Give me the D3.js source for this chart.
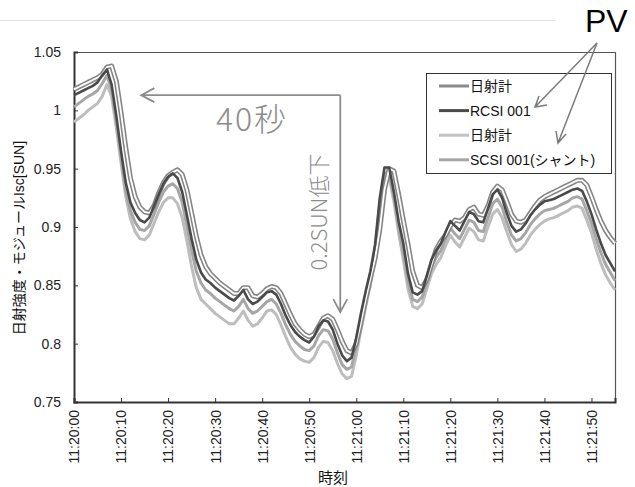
<!DOCTYPE html>
<html>
<head>
<meta charset="utf-8">
<script src="https://cdn.jsdelivr.net/npm/d3@7/dist/d3.min.js"></script>
<style>
body { margin:0; background:#fff; }
text { font-family: "Liberation Sans", "Noto Sans CJK JP", sans-serif; }
.thin { font-family: "Noto Sans CJK JP", sans-serif; font-weight: 300; }
</style>
</head>
<body>
<div id="svg"></div>
<script>

// seconds from 11:20:00, one sample per second
var secs = d3.range(0, 116);

var tickSecs = [0, 10, 20, 30, 40, 50, 60, 70, 80, 90, 100, 110];
var tickLabels = ["11:20:00", "11:20:10", "11:20:20", "11:20:30", "11:20:40", "11:20:50",
		  "11:21:00", "11:21:10", "11:21:20", "11:21:30", "11:21:40", "11:21:50"];
var yTicks = [0.75, 0.8, 0.85, 0.9, 0.95, 1, 1.05];

var seriesNames = ["日射計", "RCSI 001", "日射計", "SCSI 001(シャント)"];

// 日射計 (1)
var pyr1 = [
    1.018, 1.020, 1.022, 1.024, 1.026, 1.028, 1.031, 1.037, 1.038, 1.025,
    0.998, 0.968, 0.942, 0.926, 0.917, 0.913, 0.912, 0.918, 0.929, 0.938,
    0.944, 0.947, 0.949, 0.945, 0.932, 0.912, 0.892, 0.876, 0.866, 0.860,
    0.856, 0.852, 0.849, 0.846, 0.843, 0.843, 0.848, 0.848, 0.841, 0.840,
    0.843, 0.847, 0.849, 0.848, 0.843, 0.834, 0.825, 0.817, 0.812, 0.808,
    0.806, 0.808, 0.815, 0.822, 0.824, 0.821, 0.812, 0.802, 0.794, 0.792,
    0.800, 0.818, 0.838, 0.856, 0.873, 0.898, 0.932, 0.950, 0.948, 0.928,
    0.906, 0.885, 0.862, 0.850, 0.848, 0.855, 0.868, 0.881, 0.888, 0.893,
    0.901, 0.906, 0.905, 0.908, 0.915, 0.917, 0.911, 0.910, 0.918, 0.930,
    0.935, 0.932, 0.922, 0.911, 0.905, 0.904, 0.906, 0.912, 0.918, 0.923,
    0.926, 0.928, 0.930, 0.932, 0.934, 0.936, 0.938, 0.940, 0.940, 0.936,
    0.926, 0.915, 0.905, 0.897, 0.891, 0.886];

// RCSI 001
var rcsi = [
    1.013, 1.015, 1.017, 1.019, 1.021, 1.024, 1.030, 1.035, 1.022, 0.995,
    0.965, 0.938, 0.921, 0.912, 0.906, 0.904, 0.908, 0.918, 0.928, 0.937,
    0.943, 0.946, 0.942, 0.930, 0.910, 0.890, 0.872, 0.861, 0.855, 0.852,
    0.848, 0.845, 0.842, 0.839, 0.837, 0.841, 0.846, 0.838, 0.834, 0.836,
    0.840, 0.844, 0.845, 0.842, 0.834, 0.824, 0.816, 0.810, 0.806, 0.803,
    0.801, 0.806, 0.815, 0.820, 0.819, 0.812, 0.800, 0.790, 0.785, 0.788,
    0.805, 0.826, 0.845, 0.862, 0.885, 0.925, 0.951, 0.951, 0.930, 0.905,
    0.886, 0.860, 0.844, 0.842, 0.845, 0.858, 0.872, 0.880, 0.886, 0.896,
    0.905, 0.901, 0.897, 0.905, 0.913, 0.911, 0.905, 0.904, 0.916, 0.928,
    0.932, 0.925, 0.912, 0.901, 0.896, 0.898, 0.903, 0.910, 0.915, 0.919,
    0.922, 0.923, 0.924, 0.926, 0.928, 0.930, 0.932, 0.933, 0.931, 0.922,
    0.911, 0.898, 0.886, 0.876, 0.869, 0.862];

// 日射計 (2)
var pyr2 = [
    0.990, 0.993, 0.996, 1.000, 1.003, 1.006, 1.012, 1.022, 1.012, 0.985,
    0.955, 0.926, 0.907, 0.896, 0.890, 0.889, 0.893, 0.903, 0.913, 0.921,
    0.925, 0.925, 0.920, 0.908, 0.888, 0.866, 0.848, 0.838, 0.834, 0.830,
    0.826, 0.823, 0.820, 0.817, 0.817, 0.822, 0.828, 0.820, 0.815, 0.817,
    0.822, 0.828, 0.829, 0.825, 0.816, 0.806, 0.797, 0.791, 0.787, 0.785,
    0.784, 0.788, 0.797, 0.802, 0.801, 0.794, 0.783, 0.774, 0.770, 0.772,
    0.790, 0.812, 0.832, 0.850, 0.874, 0.912, 0.940, 0.942, 0.922, 0.895,
    0.872, 0.847, 0.832, 0.830, 0.834, 0.847, 0.860, 0.868, 0.874, 0.884,
    0.893, 0.887, 0.883, 0.891, 0.899, 0.896, 0.889, 0.888, 0.900, 0.911,
    0.915, 0.908, 0.896, 0.885, 0.879, 0.881, 0.886, 0.893, 0.898, 0.902,
    0.905, 0.907, 0.908, 0.910, 0.912, 0.914, 0.917, 0.918, 0.916, 0.906,
    0.895, 0.881, 0.869, 0.859, 0.852, 0.846];

// SCSI 001 (shunt)
var scsi = [
    1.003, 1.006, 1.009, 1.012, 1.014, 1.017, 1.023, 1.030, 1.018, 0.990,
    0.960, 0.931, 0.914, 0.904, 0.898, 0.897, 0.901, 0.911, 0.921, 0.930,
    0.935, 0.937, 0.933, 0.921, 0.901, 0.880, 0.862, 0.852, 0.846, 0.843,
    0.839, 0.836, 0.833, 0.830, 0.828, 0.832, 0.838, 0.830, 0.826, 0.828,
    0.832, 0.836, 0.838, 0.834, 0.826, 0.816, 0.808, 0.802, 0.798, 0.795,
    0.794, 0.798, 0.807, 0.812, 0.811, 0.804, 0.792, 0.782, 0.778, 0.780,
    0.798, 0.820, 0.839, 0.856, 0.880, 0.919, 0.946, 0.947, 0.926, 0.900,
    0.879, 0.853, 0.838, 0.836, 0.840, 0.852, 0.866, 0.874, 0.880, 0.890,
    0.899, 0.894, 0.890, 0.898, 0.906, 0.904, 0.897, 0.896, 0.908, 0.920,
    0.924, 0.917, 0.904, 0.893, 0.888, 0.890, 0.895, 0.902, 0.907, 0.911,
    0.914, 0.915, 0.916, 0.918, 0.920, 0.922, 0.925, 0.926, 0.924, 0.914,
    0.903, 0.890, 0.878, 0.868, 0.861, 0.854];

// annotation anchors (seconds / SUN)
var span40 = {t0: 14.3, t1: 56.6, v: 1.013};
var drop02 = {t: 56.6, v0: 1.013, v1: 0.827};

var W = 635, H = 487;
var plot = {left: 74, right: 615, top: 52, bot: 402};

var x = d3.scaleLinear().domain([0, 115]).range([plot.left, plot.right]);
var y = d3.scaleLinear().domain([0.75, 1.05]).range([plot.bot, plot.top]);

var svg = d3.select("#svg").append("svg")
    .attr("width", W)
    .attr("height", H);

// faint rule at the top of the page
svg.append("line")
    .attr("x1", 0).attr("x2", 556)
    .attr("y1", 20.5).attr("y2", 20.5)
    .attr("stroke", "#e4e4e4")
    .attr("stroke-width", 1);

// plot frame (top / right)
svg.append("path")
    .attr("d", "M" + plot.left + "," + (plot.top + .5) + "H" + (plot.right + .5) + "V" + plot.bot)
    .attr("fill", "none")
    .attr("stroke", "#555")
    .attr("stroke-width", 1.2);

// axes
var xAxis = d3.axisBottom(x)
    .tickValues(tickSecs)
    .tickSize(-4)
    .tickFormat(function(d, i) { return tickLabels[i]; });
var gx = svg.append("g")
    .attr("transform", "translate(0," + plot.bot + ")")
    .call(xAxis);
gx.select(".domain").attr("stroke", "#333").attr("stroke-width", 2);
gx.selectAll(".tick line").attr("stroke", "#333");
gx.selectAll(".tick text")
    .attr("transform", "rotate(-90)")
    .attr("x", -8)
    .attr("y", 0)
    .attr("dy", "0.35em")
    .attr("text-anchor", "end")
    .attr("fill", "#222")
    .style("font-size", "14px");

var yAxis = d3.axisLeft(y)
    .tickValues(yTicks)
    .tickSize(-4)
    .tickFormat(function(d) { return d3.format("")(+d.toFixed(2)); });
var gy = svg.append("g")
    .attr("transform", "translate(" + plot.left + ",0)")
    .call(yAxis);
gy.select(".domain").attr("stroke", "#333").attr("stroke-width", 2);
gy.selectAll(".tick line").attr("stroke", "#333");
gy.selectAll(".tick text")
    .attr("x", -13)
    .attr("fill", "#222")
    .style("font-size", "14px");

// axis titles
svg.append("text")
    .attr("transform", "translate(19,238) rotate(-90)")
    .attr("text-anchor", "middle")
    .attr("dominant-baseline", "central")
    .attr("fill", "#111")
    .style("font-size", "14px")
    .text("日射強度・モジュールIsc[SUN]");

svg.append("text")
    .attr("x", 333)
    .attr("y", 477)
    .attr("text-anchor", "middle")
    .attr("dominant-baseline", "central")
    .attr("fill", "#111")
    .style("font-size", "15px")
    .text("時刻");

/*---------------------
  ------- LINES -------
  ---------------------*/
var line = d3.line()
    .x(function(d, i) { return x(secs[i]); })
    .y(function(d) { return y(d); });

var lg = svg.append("g");

function draw_line(vals, col, w) {
    lg.append("path")
	.datum(vals)
	.attr("d", line)
	.attr("fill", "none")
	.attr("stroke", col)
	.attr("stroke-width", w)
	.attr("stroke-linejoin", "round");
}

draw_line(pyr2, "#bdbdbd", 3);
draw_line(scsi, "#a6a6a6", 3);
// hollow look of the first irradiance line
draw_line(pyr1, "#858585", 5);
draw_line(pyr1, "#ffffff", 1.8);
draw_line(rcsi, "#4a4a4a", 2.6);

/*---------------------
  ------- LEGEND ------
  ---------------------*/
var legCols = ["#8a8a8a", "#4a4a4a", "#c2c2c2", "#a6a6a6"];
var leg = {x: 426, y: 73, w: 185, h: 100, row0: 86, step: 24.6};

svg.append("rect")
    .attr("x", leg.x + .5).attr("y", leg.y + .5)
    .attr("width", leg.w).attr("height", leg.h)
    .attr("fill", "#fff")
    .attr("stroke", "#333")
    .attr("stroke-width", 1);

var le = svg.selectAll(".leg")
    .data(seriesNames)
    .enter().append("g")
    .attr("class", "leg")
    .attr("transform", function(d, i) { return "translate(0," + (leg.row0 + i * leg.step) + ")"; });
le.append("line")
    .attr("x1", 439).attr("x2", 469)
    .attr("stroke", function(d, i) { return legCols[i]; })
    .attr("stroke-width", 3);
le.append("text")
    .attr("x", 470)
    .attr("dominant-baseline", "central")
    .attr("fill", "#111")
    .style("font-size", "14px")
    .text(function(d) { return d; });

/*---------------------
  ----- ANNOTATION ----
  ---------------------*/
var ann = svg.append("g")
    .attr("fill", "none")
    .attr("stroke", "#8c8c8c")
    .attr("stroke-width", 1.8);

var ax0 = x(span40.t0), ax1 = x(span40.t1), ay = y(span40.v);
ann.append("path")
    .attr("d", "M" + ax0 + "," + ay + "H" + ax1
	  + "M" + (ax0 + 13) + "," + (ay - 7) + "L" + ax0 + "," + ay + "L" + (ax0 + 13) + "," + (ay + 7));

var dx = x(drop02.t), dy0 = y(drop02.v0), dy1 = y(drop02.v1);
ann.append("path")
    .attr("d", "M" + dx + "," + dy0 + "V" + dy1
	  + "M" + (dx - 7) + "," + (dy1 - 13) + "L" + dx + "," + dy1 + "L" + (dx + 7) + "," + (dy1 - 13));

svg.append("text")
    .attr("class", "thin")
    .attr("x", 252)
    .attr("y", 131)
    .attr("text-anchor", "middle")
    .attr("fill", "#8c8c8c")
    .style("font-size", "32px")
    .style("letter-spacing", "2px")
    .text("40秒");

svg.append("text")
    .attr("class", "thin")
    .attr("transform", "translate(317,212) rotate(-90)")
    .attr("text-anchor", "middle")
    .attr("dominant-baseline", "central")
    .attr("fill", "#8c8c8c")
    .style("font-size", "22px")
    .text("0.2SUN低下");

// PV label and pointers
svg.append("text")
    .attr("x", 585)
    .attr("y", 32)
    .attr("fill", "#000")
    .style("font-size", "32px")
    .text("PV");

var pv = svg.append("g")
    .attr("fill", "none")
    .attr("stroke", "#7a7a7a")
    .attr("stroke-width", 1.5);
pv.append("path")
    .attr("d", "M597,43L535,107M547,105L535,107L539,96");
pv.append("path")
    .attr("d", "M597,43L558,143M556,131L558,143L566,134");

</script>
</body>
</html>
